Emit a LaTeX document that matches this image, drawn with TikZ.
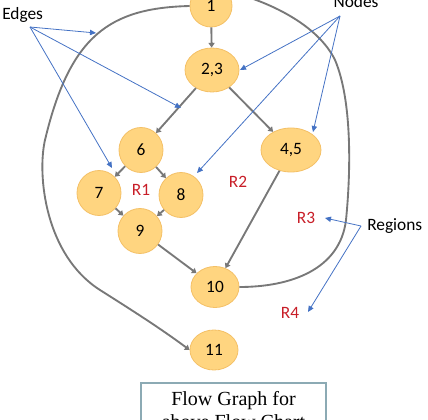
\documentclass[tikz,border=0pt]{standalone}
\usepackage{fontspec}
\setmainfont{Liberation Serif}
\newfontfamily\carl{Carlito}
\usetikzlibrary{shapes.geometric,arrows.meta}
\definecolor{nodefill}{RGB}{255,213,128}
\definecolor{nodeborder}{RGB}{244,192,102}
\definecolor{edgegray}{RGB}{120,120,120}
\definecolor{bluearrow}{RGB}{68,114,196}
\definecolor{regred}{RGB}{200,30,40}
\definecolor{boxborder}{RGB}{140,170,180}
\begin{document}
\begin{tikzpicture}[x=0.75pt,y=-0.75pt,
  vert/.style 2 args={ellipse, draw=nodeborder, fill=nodefill, line width=0.6pt, inner sep=0pt,
     minimum width=#1*0.75pt, minimum height=#2*0.75pt, font=\carl\fontsize{13}{15}\selectfont},
  gedge/.style={draw=edgegray, line width=1.4pt, -{Triangle[width=4.5pt,length=3.5pt]}},
  bline/.style={draw=bluearrow, line width=0.6pt, -{Triangle[width=4pt,length=4.5pt]}},
  lbl/.style={font=\carl\fontsize{13}{15}\selectfont, inner sep=0pt},
  reg/.style={font=\carl\fontsize{13}{15}\selectfont, text=regred, inner sep=0pt}]
\useasboundingbox (0,0) rectangle (428,420);
\clip (0,0) rectangle (428,420);

% nodes
\node[vert={42}{42}] (n1) at (211,6) {1};
\node[vert={54}{44}] (n23) at (212,70) {2,3};
\node[vert={44}{45}] (n6) at (141,150) {6};
\node[vert={44}{45}] (n7) at (99,193) {7};
\node[vert={44}{45}] (n8) at (181,195) {8};
\node[vert={44}{45}] (n9) at (140,231) {9};
\node[vert={60}{44}] (n45) at (291,150) {4,5};
\node[vert={48}{41}] (n10) at (215,287) {10};
\node[vert={48}{40}] (n11) at (214,350) {11};

% region labels
\node[reg] (r1) at (141,190) {R1};
\node[reg] (r2) at (238,182) {R2};
\node[reg] (r3) at (306,218) {R3};
\node[reg] (r4) at (290,313) {R4};

% gray edges
\draw[gedge] (n1) -- (n23);
\draw[gedge] (n23) -- (n6);
\draw[gedge] (n23) -- (n45);
\draw[gedge] (n6) -- (n7);
\draw[gedge] (n6) -- (n8);
\draw[gedge] (n7) -- (n9);
\draw[gedge] (n8) -- (n9);
\draw[gedge] (n9) -- (n10);
\draw[gedge] (n45) -- (n10);
\draw[gedge] (n10.east) .. controls (290,287) and (340,270) .. (346,220)
   .. controls (351,170) and (352,100) .. (335,60)
   .. controls (318,25) and (270,2) .. (n1.north east);
\draw[gedge] (n1.west) .. controls (110,8) and (70,35) .. (45,140)
   .. controls (37,175) and (45,255) .. (100,290)
   .. controls (130,309) and (160,328) .. (n11.west);

% labels
\node[lbl, anchor=base west] (edges) at (2,20) {Edges};
\node[lbl, anchor=base] (nodes) at (356,8) {Nodes};
\node[lbl, anchor=base west] (regions) at (367,231) {Regions};

% blue pointer lines
\coordinate (eo) at (30,27);
\coordinate (et1) at (96,33);
\coordinate (et2) at (181,108);
\coordinate (et3) at (112,168);
\draw[bline] (eo) -- (et1);
\draw[bline] (eo) -- (et2);
\draw[bline] (eo) -- (et3);
\coordinate (no) at (340,16);
\coordinate (nt1) at (240,70);
\coordinate (nt2) at (313,132);
\coordinate (nt3) at (197,173);
\draw[bline] (no) -- (nt1);
\draw[bline] (no) -- (nt2);
\draw[bline] (no) -- (nt3);
\coordinate (ro) at (361,226);
\coordinate (rt1) at (325,218);
\coordinate (rt2) at (308,312);
\draw[bline] (ro) -- (rt1);
\draw[bline] (ro) -- (rt2);

% caption box (cropped)
\draw[boxborder, line width=0.8pt] (141,383) rectangle (326,450);
\node[font=\fontsize{15}{17.25}\selectfont, anchor=base, inner sep=0pt] (cap1) at (233.5,405) {Flow Graph for};
\node[font=\fontsize{15}{17.25}\selectfont, anchor=base, inner sep=0pt] (cap2) at (233.5,428) {above Flow Chart};
\end{tikzpicture}
\end{document}
